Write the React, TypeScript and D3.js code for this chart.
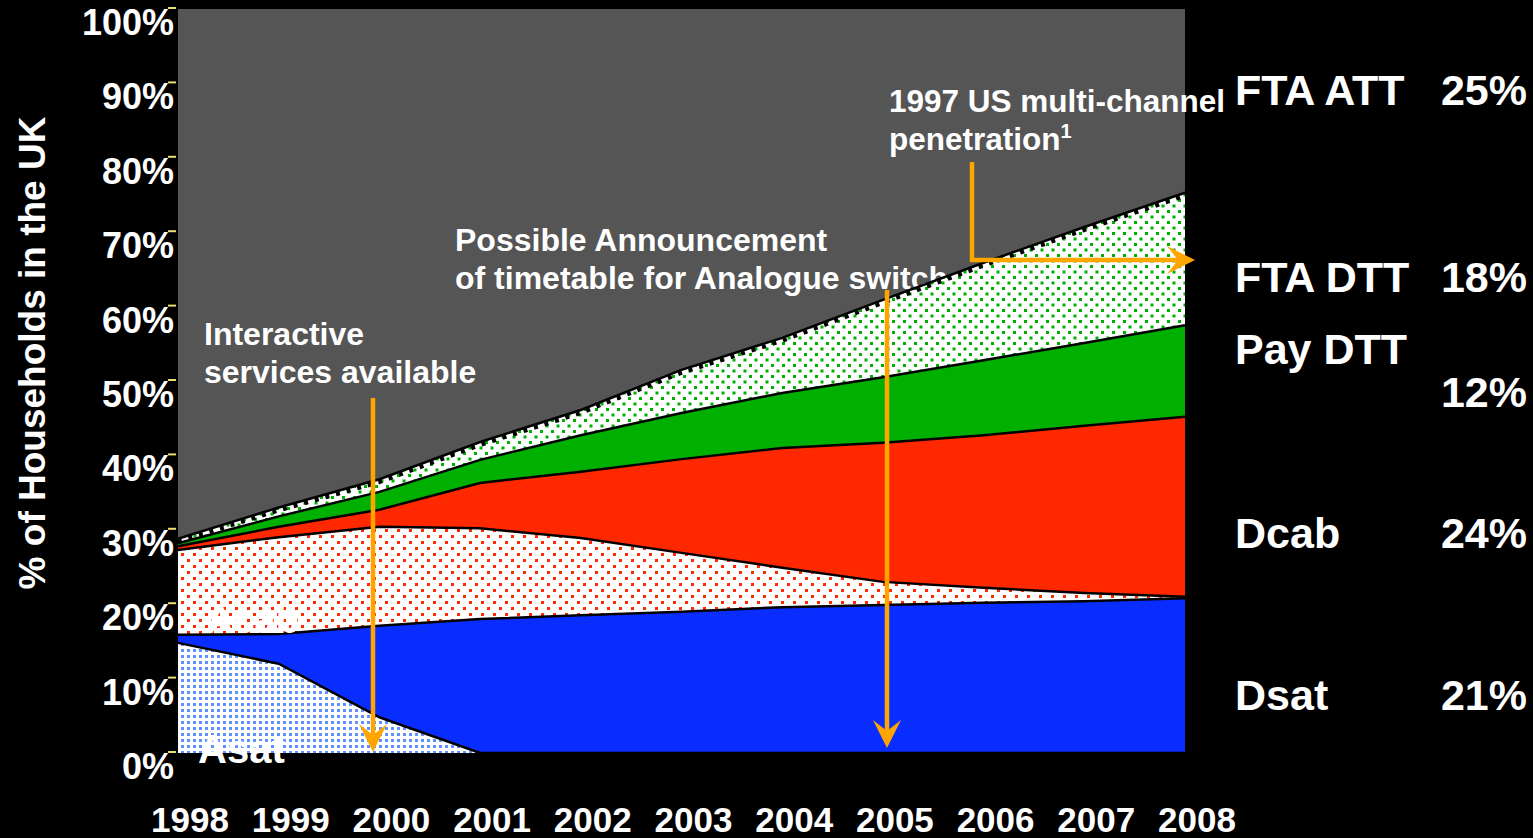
import React from "react";
import * as d3 from "d3";

const years = [1998, 1999, 2000, 2001, 2002, 2003, 2004, 2005, 2006, 2007, 2008];
const asat = [14.8, 12.0, 4.8, 0, 0, 0, 0, 0, 0, 0, 0];
const dsat = [1.1, 4.0, 12.3, 18.0, 18.5, 19.0, 19.6, 19.9, 20.2, 20.4, 20.8];
const acab = [11.4, 13.0, 13.3, 12.2, 10.4, 7.9, 5.3, 3.1, 2.0, 1.1, 0.2];
const dcab = [0.5, 1.4, 2.3, 6.1, 8.9, 12.6, 16.1, 18.7, 20.5, 22.5, 24.2];
const payDtt = [0.4, 1.4, 2.4, 3.1, 4.9, 6.2, 7.4, 8.8, 10.1, 11.1, 12.3];
const ftaDtt = [0.6, 1.2, 1.7, 2.4, 3.4, 5.8, 7.4, 10.4, 13.1, 15.6, 17.8];
const ftaAtt = [71.2, 67.0, 63.2, 58.2, 53.9, 48.5, 44.2, 39.1, 34.1, 29.3, 24.7];

const yTicks = [0, 10, 20, 30, 40, 50, 60, 70, 80, 90, 100];

const rightLabels = [
  { name: "FTA ATT", value: "25%", y: 105, vy: 105 },
  { name: "FTA DTT", value: "18%", y: 292, vy: 292 },
  { name: "Pay DTT", value: "12%", y: 364, vy: 407 },
  { name: "Dcab", value: "24%", y: 548, vy: 548 },
  { name: "Dsat", value: "21%", y: 710, vy: 710 },
];

const keys = ["asat", "dsat", "acab", "dcab", "payDtt", "ftaDtt", "ftaAtt"];
const fills: Record<string, string> = {
  asat: "url(#blueDots)",
  dsat: "#0A2DFF",
  acab: "url(#redDots)",
  dcab: "#FF2800",
  payDtt: "#00B000",
  ftaDtt: "url(#greenDots)",
  ftaAtt: "#555555",
};

const FONT = "'Liberation Sans', Arial, Helvetica, sans-serif";
const ORANGE = "#FFA500";

function Head({ x, y, dir }: { x: number; y: number; dir: "down" | "right" }) {
  const rot = dir === "down" ? 0 : -90;
  return (
    <path
      d="M0,0 L-14,-28 L0,-17 L14,-28 Z"
      transform={`translate(${x},${y}) rotate(${rot})`}
      fill={ORANGE}
    />
  );
}

export default function App() {
  const W = 1533, H = 838;
  const x = d3.scaleLinear().domain([1998, 2008]).range([178, 1185]);
  const y = d3.scaleLinear().domain([0, 100]).range([753, 9]);

  const rows = years.map((yr, i) => ({
    year: yr,
    asat: asat[i],
    dsat: dsat[i],
    acab: acab[i],
    dcab: dcab[i],
    payDtt: payDtt[i],
    ftaDtt: ftaDtt[i],
    ftaAtt: ftaAtt[i],
  }));
  const stacked = d3.stack<any>().keys(keys)(rows);
  const area = d3
    .area<any>()
    .x((d) => x(d.data.year))
    .y0((d) => y(d[0]))
    .y1((d) => y(d[1]));
  const topLine = d3
    .line<any>()
    .x((d) => x(d.data.year))
    .y((d) => y(d[1]));

  const attLayer = stacked[stacked.length - 1];
  const lower = stacked.slice(0, stacked.length - 1);
  const ftaDttLayer = stacked[5];

  const txt = { fontFamily: FONT, fontWeight: 700, fill: "#fff" } as const;

  return (
    <svg
      width={W}
      height={H}
      style={{ position: "absolute", left: 0, top: 0, display: "block" }}
    >
      <defs>
        <pattern id="redDots" width="12" height="12" patternUnits="userSpaceOnUse">
          <rect width="12" height="12" fill="#fff" />
          <rect x="1" y="1" width="3" height="3" fill="#FF2800" />
          <rect x="7" y="7" width="3" height="3" fill="#FF2800" />
        </pattern>
        <pattern id="greenDots" width="11" height="11" patternUnits="userSpaceOnUse">
          <rect width="11" height="11" fill="#fff" />
          <rect x="1" y="1" width="3" height="3" fill="#00B000" />
          <rect x="6.5" y="6.5" width="3" height="3" fill="#00B000" />
        </pattern>
        <pattern id="blueDots" width="6" height="6" patternUnits="userSpaceOnUse">
          <rect width="6" height="6" fill="#fff" />
          <rect x="1" y="1" width="3" height="3" fill="#5E90FF" />
        </pattern>
      </defs>
      <rect width={W} height={H} fill="#000" />

      {/* FTA ATT layer */}
      <path d={area(attLayer) || ""} fill={fills.ftaAtt} />

      {/* annotations under the areas */}
      <text {...txt} fontSize={32} x={204} y={345}>Interactive</text>
      <text {...txt} fontSize={32} x={204} y={383}>services available</text>
      <text {...txt} fontSize={32} x={455} y={251}>Possible Announcement</text>
      <text {...txt} fontSize={32} x={455} y={289}>of timetable for Analogue switch-off</text>
      <text {...txt} fontSize={31.5} x={889} y={112}>1997 US multi-channel</text>
      <text {...txt} fontSize={31.5} x={889} y={150}>
        penetration<tspan fontSize={20} dy={-12}>1</tspan>
      </text>

      {lower.map((s) => (
        <path key={s.key} d={area(s) || ""} fill={fills[s.key]} />
      ))}
      {lower.map((s) => (
        <path
          key={"l" + s.key}
          d={topLine(s) || ""}
          fill="none"
          stroke="#000"
          strokeWidth={2.5}
        />
      ))}
      <path
        d={topLine(ftaDttLayer) || ""}
        fill="none"
        stroke="#000"
        strokeWidth={4}
        strokeDasharray="4 7"
        transform="translate(0,3)"
      />

      {/* y axis */}
      {yTicks.map((t) => (
        <g key={t}>
          <line x1={168} x2={176} y1={y(t) - 1} y2={y(t) - 1} stroke="#E8E070" strokeWidth={2} />
          <text {...txt} fontSize={36} x={174} y={y(t) + 26} textAnchor="end">
            {t}%
          </text>
        </g>
      ))}
      <text
        {...txt}
        fontSize={37}
        textAnchor="middle"
        transform="translate(45,353) rotate(-90)"
      >
        % of Households in the UK
      </text>

      {/* x axis */}
      {years.map((yr) => (
        <text key={yr} {...txt} fontSize={35} x={x(yr) + 12} y={832} textAnchor="middle">
          {yr}
        </text>
      ))}

      {/* in-plot labels */}
      <text {...txt} fontSize={38} x={206} y={633}>Acab</text>
      <text {...txt} fontSize={40} x={198} y={763}>Asat</text>

      {/* arrows */}
      <line x1={373} x2={373} y1={398} y2={735} stroke={ORANGE} strokeWidth={4.5} />
      <Head x={373} y={752} dir="down" />
      <line x1={887} x2={887} y1={290} y2={731} stroke={ORANGE} strokeWidth={4.5} />
      <Head x={887} y={748} dir="down" />
      <path d="M972,162 L972,260 L1178,260" fill="none" stroke={ORANGE} strokeWidth={4.5} />
      <Head x={1195} y={260} dir="right" />

      {/* right labels */}
      {rightLabels.map((r) => (
        <g key={r.name}>
          <text {...txt} fontSize={43} x={1235} y={r.y}>{r.name}</text>
          <text {...txt} fontSize={43} x={1527} y={r.vy} textAnchor="end">{r.value}</text>
        </g>
      ))}
    </svg>
  );
}
